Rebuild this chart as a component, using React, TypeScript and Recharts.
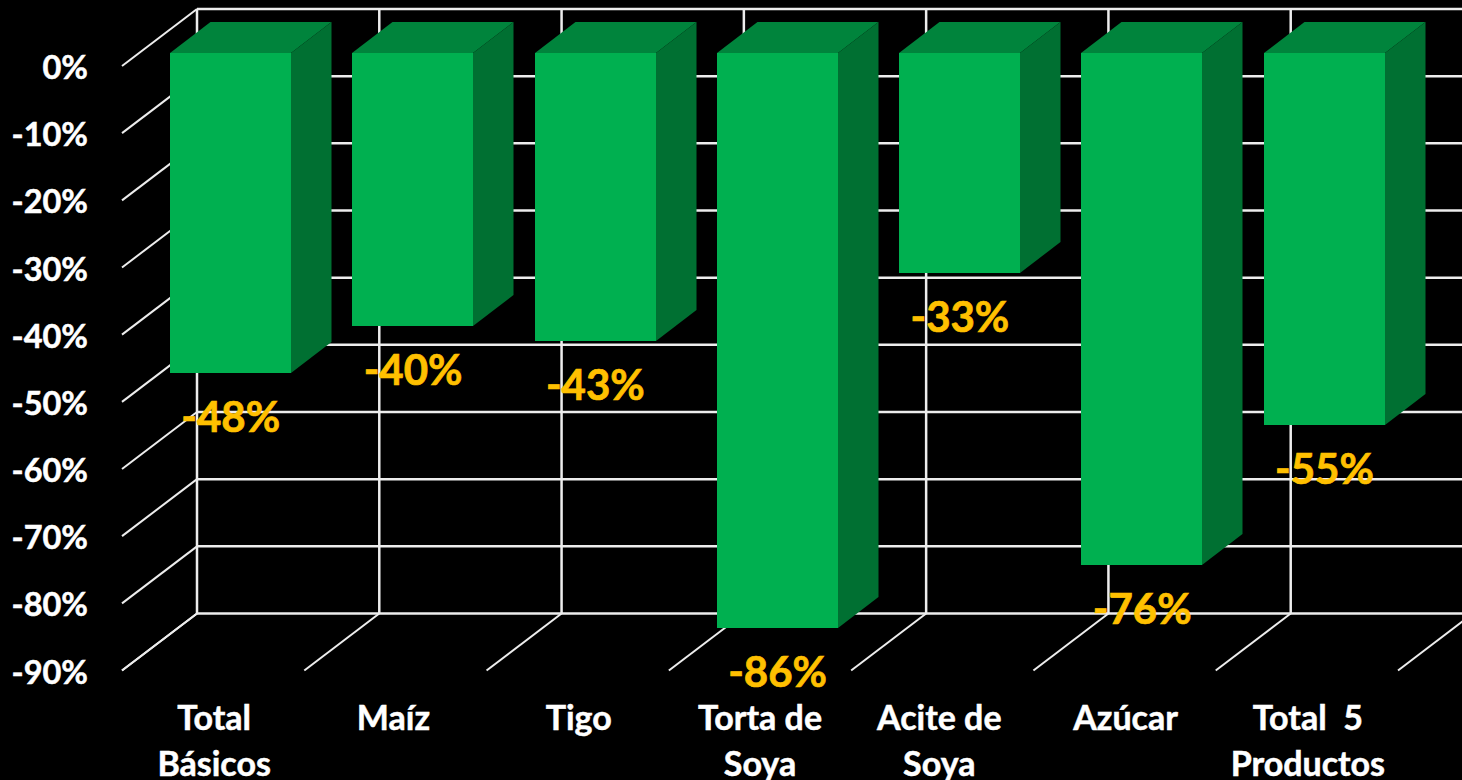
import React from "react";
import { BarChart, Bar, XAxis, YAxis, CartesianGrid, LabelList } from "recharts";

const categories = ["Total Básicos", "Maíz", "Tigo", "Torta de Soya", "Acite de Soya", "Azúcar", "Total  5 Productos"];
const tickFirstLines = ["Total", "Maíz", "Tigo", "Torta de", "Acite de", "Azúcar", "Total  5"];
const tickSecondLines = ["Básicos", "", "", "Soya", "Soya", "", "Productos"];
const values = [-47.7, -40.7, -43.0, -85.7, -32.8, -76.3, -55.4];
const valueLabels = ["-48%", "-40%", "-43%", "-86%", "-33%", "-76%", "-55%"];
const yTicks = [0, -10, -20, -30, -40, -50, -60, -70, -80, -90];

const data = categories.map((name, i) => ({ name, value: values[i] }));

const W = 1462;
const H = 780;
const M = { top: 66, right: 64, bottom: 9.5, left: 22 };
const Y_AXIS_W = 100;
const PLOT_L = M.left + Y_AXIS_W;
const BAND = (W - PLOT_L - M.right) / categories.length;
const WALL_DX = 75;
const WALL_DY = -57;
const BAR_DX = 18;
const BAR_DY = -13.5;
const DEPTH_DX = 40.5;
const DEPTH_DY = -31;
const LINE = "#ededed";
const FONT = "Lato, sans-serif";
const TICK_NUDGE = [1, -2, 1, 0, -3, 1, 1];

const gridH = (p: any) => (
  <g key={`h${p.y1}`}>
    <line x1={p.x1} y1={p.y1} x2={p.x1 + WALL_DX} y2={p.y1 + WALL_DY} stroke={LINE} strokeWidth={2} />
    <line x1={p.x1 + WALL_DX} y1={p.y1 + WALL_DY} x2={p.x2 + WALL_DX} y2={p.y2 + WALL_DY} stroke={LINE} strokeWidth={2.5} />
  </g>
);

const gridV = (p: any) => {
  const k = (p.x1 - PLOT_L) / BAND - 0.5;
  if (Math.abs(k - Math.round(k)) > 0.05) return <g key={`e${p.x1}`} />;
  const left = p.x1 - BAND / 2;
  const bottom = Math.max(p.y1, p.y2);
  const top = Math.min(p.y1, p.y2);
  const floor = (x: number) => (
    <g key={x}>
      <line x1={x + WALL_DX} y1={top + WALL_DY} x2={x + WALL_DX} y2={bottom + WALL_DY} stroke={LINE} strokeWidth={2.5} />
      <line x1={x} y1={bottom} x2={x + WALL_DX} y2={bottom + WALL_DY} stroke={LINE} strokeWidth={2} />
    </g>
  );
  return (
    <g key={`v${p.x1}`}>
      {floor(left)}
      {Math.round(k) === categories.length - 1 ? floor(left + BAND) : null}
    </g>
  );
};

const Bar3D = (p: any) => {
  const top = Math.round(Math.min(p.y, p.y + p.height) + BAR_DY);
  const bottom = Math.round(Math.max(p.y, p.y + p.height) + BAR_DY);
  const l = Math.round(p.x + BAR_DX);
  const r = l + 121;
  return (
    <g>
      <polygon points={`${l},${top} ${r},${top} ${r + DEPTH_DX},${top + DEPTH_DY} ${l + DEPTH_DX},${top + DEPTH_DY}`} fill="#00843C" />
      <polygon points={`${r},${top} ${r + DEPTH_DX},${top + DEPTH_DY} ${r + DEPTH_DX},${bottom + DEPTH_DY} ${r},${bottom}`} fill="#007032" />
      <rect x={l} y={top} width={r - l} height={bottom - top} fill="#00B050" />
    </g>
  );
};

const BarLabel = (p: any) => {
  const bottom = Math.max(p.y, p.y + p.height) + BAR_DY;
  return (
    <text x={p.x + BAR_DX + p.width / 2} y={bottom + 59} textAnchor="middle" fill="#FFC000" stroke="#FFC000" strokeWidth={0.7} fontFamily={FONT} fontWeight={700} fontSize={42}>
      {valueLabels[p.index]}
    </text>
  );
};

const YTick = (p: any) => (
  <text x={88} y={p.y + 13} textAnchor="end" fill="#fff" stroke="#fff" strokeWidth={0.5} fontFamily={FONT} fontWeight={700} fontSize={32.5}>
    {`${p.payload.value}%`}
  </text>
);

const XTick = (p: any) => {
  const i = p.index;
  const cx = p.x + TICK_NUDGE[i];
  return (
    <g>
      <text x={cx} y={p.y + 53} textAnchor="middle" fill="#fff" stroke="#fff" strokeWidth={0.5} fontFamily={FONT} fontWeight={700} fontSize={34} style={{ whiteSpace: "pre" }}>
        {tickFirstLines[i]}
      </text>
      <text x={cx} y={p.y + 99} textAnchor="middle" fill="#fff" stroke="#fff" strokeWidth={0.5} fontFamily={FONT} fontWeight={700} fontSize={34}>
        {tickSecondLines[i]}
      </text>
    </g>
  );
};

export default function App() {
  return (
    <div style={{ position: "fixed", left: 0, top: 0, width: W, height: H, background: "#000", overflow: "hidden" }}>
      <BarChart width={W} height={H} data={data} margin={M} barSize={121.5}>
        <CartesianGrid horizontal={gridH} vertical={gridV} />
        <XAxis dataKey="name" axisLine={false} tickLine={false} interval={0} height={100} tick={XTick} tickMargin={0} orientation="bottom" />
        <YAxis type="number" domain={[-90, 0]} ticks={yTicks} width={Y_AXIS_W} axisLine={false} tickLine={false} tick={YTick} interval={0} />
        <Bar dataKey="value" isAnimationActive={false} shape={Bar3D}>
          <LabelList dataKey="value" content={BarLabel} />
        </Bar>
      </BarChart>
    </div>
  );
}
